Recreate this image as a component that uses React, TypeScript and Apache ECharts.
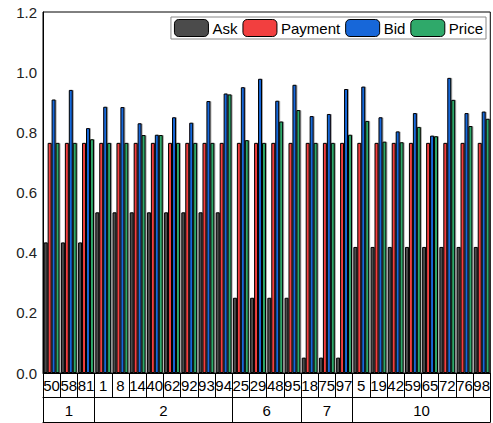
import React, { useEffect, useRef } from "react";
import * as echarts from "echarts";

const categories = ["50", "58", "81", "1", "8", "14", "40", "62", "92", "93", "94", "25", "29", "48", "95", "18", "75", "97", "5", "19", "42", "59", "65", "72", "76", "98"];
const groupNames = ["1", "2", "6", "7", "10"];
const groupSizes = [3, 8, 4, 3, 8];

const ask = [0.434, 0.434, 0.434, 0.534, 0.534, 0.534, 0.534, 0.534, 0.534, 0.534, 0.534, 0.25, 0.25, 0.25, 0.25, 0.051, 0.051, 0.051, 0.419, 0.419, 0.419, 0.419, 0.419, 0.419, 0.419, 0.419];
const payment = [0.765, 0.765, 0.765, 0.765, 0.765, 0.765, 0.765, 0.765, 0.765, 0.765, 0.765, 0.765, 0.765, 0.765, 0.765, 0.765, 0.765, 0.765, 0.765, 0.765, 0.765, 0.765, 0.765, 0.765, 0.765, 0.765];
const bid = [0.909, 0.941, 0.814, 0.885, 0.884, 0.83, 0.792, 0.85, 0.832, 0.904, 0.929, 0.95, 0.978, 0.905, 0.958, 0.854, 0.861, 0.944, 0.952, 0.85, 0.803, 0.864, 0.789, 0.981, 0.864, 0.869];
const price = [0.765, 0.765, 0.777, 0.765, 0.765, 0.791, 0.791, 0.765, 0.765, 0.765, 0.926, 0.774, 0.765, 0.836, 0.874, 0.765, 0.765, 0.792, 0.838, 0.769, 0.767, 0.818, 0.787, 0.908, 0.821, 0.845];

const seriesNames = ["Ask", "Payment", "Bid", "Price"];
const seriesColors = ["#4b4b4b", "#f23f3f", "#1767d9", "#2fa96a"];

const FONT = "'Liberation Sans', Arial, sans-serif";

export default function App() {
  const ref = useRef<HTMLDivElement>(null);
  useEffect(() => {
    document.body.style.margin = "0";
    if (!ref.current) return;
    const chart = echarts.init(ref.current, null, { renderer: "svg" });

    const bounds: number[] = [0];
    const centers: number[] = [];
    groupSizes.forEach((s) => {
      const start = bounds[bounds.length - 1];
      centers.push(start + s / 2);
      bounds.push(start + s);
    });
    const total = bounds[bounds.length - 1];

    const dataSets = [ask, payment, bid, price];

    chart.setOption({
      animation: false,
      textStyle: { fontFamily: FONT },
      grid: {
        left: 43,
        right: 1,
        top: 12,
        bottom: 50,
        show: true,
        borderColor: "#000",
        borderWidth: 1,
      },
      legend: {
        data: seriesNames,
        right: 7,
        top: 17,
        itemWidth: 34,
        itemHeight: 17,
        itemGap: 5,
        padding: [2, 3, 2, 3],
        borderColor: "#888",
        borderWidth: 1,
        backgroundColor: "#fff",
        textStyle: { fontSize: 15, color: "#000", fontFamily: FONT, padding: [0, 0, 0, -1] },
        itemStyle: {
          borderColor: "#000",
          borderWidth: 1,
          shadowBlur: 0,
          shadowOffsetX: 0,
          shadowOffsetY: 0,
          shadowColor: "rgba(0,0,0,0)",
        },
      },
      xAxis: [
        {
          type: "category",
          data: categories,
          gridIndex: 0,
          position: "bottom",
          axisLine: { show: true, lineStyle: { color: "#000", width: 1 } },
          axisTick: { show: true, interval: 0, length: 24, lineStyle: { color: "#000" } },
          axisLabel: { interval: 0, fontSize: 15, color: "#000", margin: 5, fontFamily: FONT },
          splitLine: { show: false },
        },
        {
          type: "value",
          gridIndex: 0,
          position: "bottom",
          offset: 24,
          min: 0,
          max: total,
          axisLine: { show: true, lineStyle: { color: "#000", width: 1 } },
          axisTick: { show: true, customValues: bounds, length: 25, lineStyle: { color: "#000" } },
          axisLabel: {
            show: true,
            customValues: centers,
            fontSize: 15,
            color: "#000",
            margin: 6,
            fontFamily: FONT,
            formatter: (v: number) => {
              const i = centers.indexOf(v);
              return i >= 0 ? groupNames[i] : "";
            },
          },
          splitLine: { show: false },
        },
        {
          type: "value",
          gridIndex: 0,
          position: "bottom",
          offset: 49,
          min: 0,
          max: total,
          axisLine: { show: true, lineStyle: { color: "#000", width: 1 } },
          axisTick: { show: false },
          axisLabel: { show: false },
          splitLine: { show: false },
        },
      ],
      yAxis: {
        type: "value",
        min: 0,
        max: 1.2,
        interval: 0.2,
        axisLine: { show: true, lineStyle: { color: "#000", width: 1 } },
        axisTick: { show: false },
        splitLine: { show: false },
        axisLabel: {
          fontSize: 15,
          color: "#222",
          margin: 6,
          fontFamily: FONT,
          formatter: (v: number) => v.toFixed(1),
        },
      },
      series: seriesNames.map((name, i) => ({
        name,
        type: "bar",
        legendIcon: "rect",
        xAxisIndex: 0,
        data: dataSets[i],
        barGap: "0%",
        barCategoryGap: "8%",
        itemStyle: {
          color: seriesColors[i],
          borderColor: "#000",
          borderWidth: 1,
          shadowColor: "rgba(0,0,0,0.35)",
          shadowOffsetX: 1,
          shadowOffsetY: 0,
          shadowBlur: 1,
        },
      })),
    });
    return () => chart.dispose();
  }, []);
  return <div ref={ref} style={{ width: 493, height: 423 }} />;
}
